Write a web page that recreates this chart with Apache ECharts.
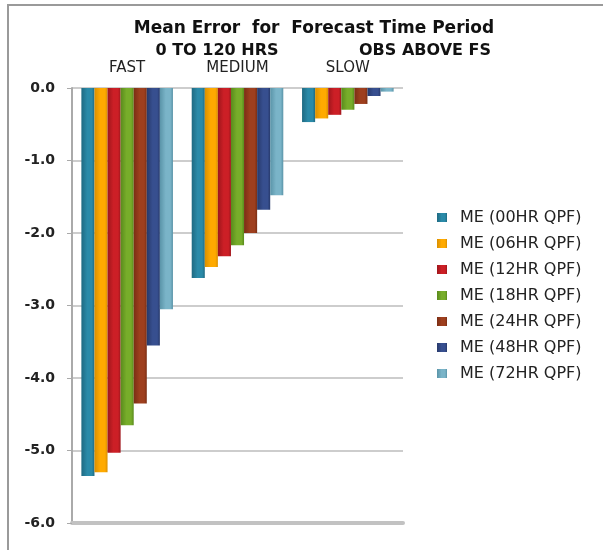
<!DOCTYPE html>
<html>
<head>
<meta charset="utf-8">
<script src="https://cdn.jsdelivr.net/npm/echarts@6/dist/echarts.min.js"></script>
<style>
html,body{margin:0;padding:0;background:#fff;}
#chart{width:603px;height:550px;}
</style>
</head>
<body>
<div id="chart"></div>
<script>
const categories = ['FAST', 'MEDIUM', 'SLOW'];
const seriesNames = ['ME (00HR QPF)', 'ME (06HR QPF)', 'ME (12HR QPF)', 'ME (18HR QPF)', 'ME (24HR QPF)', 'ME (48HR QPF)', 'ME (72HR QPF)'];
const me00 = [-5.35, -2.62, -0.47];
const me06 = [-5.30, -2.47, -0.42];
const me12 = [-5.03, -2.32, -0.37];
const me18 = [-4.65, -2.17, -0.30];
const me24 = [-4.35, -2.00, -0.22];
const me48 = [-3.55, -1.68, -0.11];
const me72 = [-3.05, -1.48, -0.05];
const yTicks = [0, -1, -2, -3, -4, -5, -6];

const seriesData = [me00, me06, me12, me18, me24, me48, me72];
const colors = ['#2a8aa8', '#ffaa00', '#cc1f26', '#77ad2a', '#9e3f1e', '#374f8f', '#7ab4c8'];
const darker = ['#1f6a82', '#d98f00', '#9e161c', '#5a8a1c', '#7a2e14', '#27396b', '#5a94a8'];

function grad(i) {
  return new echarts.graphic.LinearGradient(0, 0, 1, 0, [
    {offset: 0, color: darker[i]},
    {offset: 0.45, color: colors[i]},
    {offset: 0.8, color: colors[i]},
    {offset: 1, color: darker[i]}
  ]);
}

const chart = echarts.init(document.getElementById('chart'));
const FONT = 'DejaVu Sans';
chart.setOption({
  animation: false,
  backgroundColor: '#fff',
  graphic: [
    {type: 'line', shape: {x1: 7, y1: 5, x2: 603, y2: 5}, style: {stroke: '#9a9a9a', lineWidth: 2}},
    {type: 'line', shape: {x1: 8, y1: 5, x2: 8, y2: 550}, style: {stroke: '#9a9a9a', lineWidth: 2}}
  ],
  title: [
    {text: 'Mean Error  for  Forecast Time Period', left: 309, top: 15, textAlign: 'center',
     textStyle: {fontFamily: FONT, fontWeight: 'bold', fontSize: 17, color: '#111'}},
    {text: '0 TO 120 HRS', left: 212, top: 38, textAlign: 'center',
     textStyle: {fontFamily: FONT, fontWeight: 'bold', fontSize: 16, color: '#111'}},
    {text: 'OBS ABOVE FS', left: 420, top: 38, textAlign: 'center',
     textStyle: {fontFamily: FONT, fontWeight: 'bold', fontSize: 16, color: '#111'}}
  ],
  legend: {
    orient: 'vertical',
    left: 432,
    top: 204,
    itemWidth: 10,
    itemHeight: 9,
    itemGap: 9,
    icon: 'rect',
    textStyle: {fontFamily: FONT, fontSize: 16, color: '#222', lineHeight: 17, padding: [0, 0, 0, 8]},
    data: seriesNames
  },
  grid: {left: 72, right: 200, top: 88, bottom: 27},
  xAxis: [
    {type: 'category', position: 'top', data: categories,
     axisLine: {show: false}, axisTick: {show: false},
     axisLabel: {fontFamily: FONT, fontSize: 15, color: '#222', margin: 12}},
    {type: 'category', position: 'bottom', data: categories,
     axisLine: {show: true, lineStyle: {color: '#c2c2c2', width: 4}},
     axisTick: {show: false}, axisLabel: {show: false}}
  ],
  yAxis: {
    type: 'value', min: -6, max: 0, interval: 1,
    axisLine: {show: true, lineStyle: {color: '#aaa', width: 2}},
    axisTick: {show: true, length: 5, lineStyle: {color: '#aaa'}},
    axisLabel: {fontFamily: FONT, fontWeight: 'bold', fontSize: 14, color: '#222', margin: 17,
      formatter: v => (yTicks.indexOf(v) >= 0 ? v.toFixed(1) : '')},
    splitLine: {show: true, lineStyle: {color: '#bdbdbd', width: 1.5}}
  },
  series: seriesNames.map((name, i) => ({
    name: name,
    type: 'bar',
    xAxisIndex: 0,
    data: seriesData[i],
    barGap: '0%',
    barCategoryGap: '17%',
    itemStyle: {color: grad(i)}
  })),
  color: colors
});
</script>
</body>
</html>
